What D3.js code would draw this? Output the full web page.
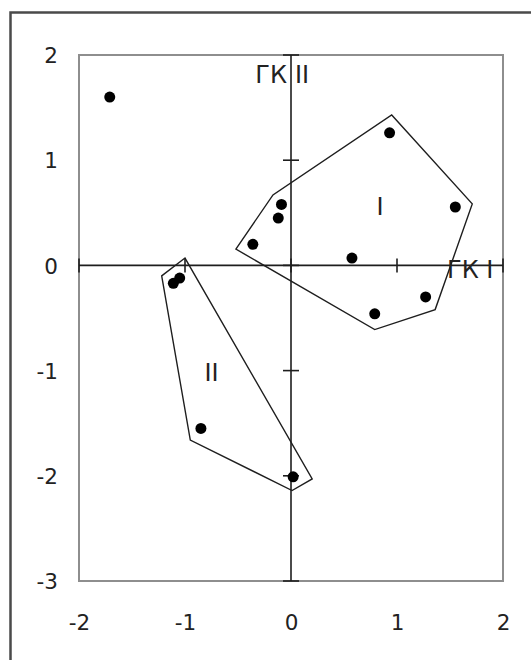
<!DOCTYPE html>
<html>
<head>
<meta charset="utf-8">
<script src="https://cdn.jsdelivr.net/npm/d3@7"></script>
<style>
  body { margin: 0; background: #fff; }
  text { font-family: "DejaVu Sans", sans-serif; fill: #222; }
</style>
</head>
<body>
<div id="chart"></div>
<script>
// points (ГК I, ГК II)
var pointsX = [-1.71, 0.93, 1.55, -0.09, -0.12, -0.36, 0.575, 0.79, 1.27, -1.11, -1.05, -0.85, 0.02];
var pointsY = [1.60, 1.26, 0.555, 0.58, 0.45, 0.20, 0.07, -0.46, -0.30, -0.17, -0.12, -1.55, -2.01];

// cluster hulls
var hull1X = [-0.52, -0.17, 0.95, 1.71, 1.36, 0.79];
var hull1Y = [0.155, 0.67, 1.43, 0.585, -0.42, -0.61];
var hull2X = [-1.0, -1.22, -0.95, 0.01, 0.2];
var hull2Y = [0.07, -0.10, -1.66, -2.14, -2.03];

var xTicks = [-2, -1, 0, 1, 2];
var yTicks = [-3, -2, -1, 0, 1, 2];

var w = 531, h = 660;
var plotLeft = 79, plotRight = 503, plotTop = 55, plotBottom = 581;

var x = d3.scaleLinear().domain([-2, 2]).range([plotLeft, plotRight]);
var y = d3.scaleLinear().domain([-3, 2]).range([plotBottom, plotTop]);

var fmt = function(d) { return String(d); }; // plain hyphen minus

var svg = d3.select("#chart").append("svg")
    .attr("width", w)
    .attr("height", h);

// outer frame (only top and left visible)
svg.append("path")
    .attr("d", "M10.5," + h + "V12.5H" + w)
    .attr("fill", "none")
    .attr("stroke", "#4a4a4a")
    .attr("stroke-width", 2.5);

// plot area border
svg.append("rect")
    .attr("x", plotLeft).attr("y", plotTop)
    .attr("width", plotRight - plotLeft).attr("height", plotBottom - plotTop)
    .attr("fill", "none")
    .attr("stroke", "#8e8e8e")
    .attr("stroke-width", 2);

// tick labels
var xAxis = d3.axisBottom(x).tickValues(xTicks).tickSize(0).tickPadding(49).tickFormat(fmt);
var yAxis = d3.axisLeft(y).tickValues(yTicks).tickSize(0).tickPadding(21).tickFormat(fmt);

var gx = svg.append("g").attr("transform", "translate(0," + plotBottom + ")").call(xAxis);
var gy = svg.append("g").attr("transform", "translate(" + plotLeft + ",0)").call(yAxis);
[gx, gy].forEach(function(g) {
    g.select(".domain").remove();
    g.selectAll("text")
        .style("font-family", "DejaVu Sans, sans-serif")
        .style("font-size", "21.5px")
        .attr("fill", "#222");
});
gx.selectAll("text").attr("dy", "0");
gy.selectAll("text").attr("dy", "0.36em");

// axes through origin with cross ticks
var axisColor = "#1e1e1e";
svg.append("line")
    .attr("x1", x(-2)).attr("x2", x(2))
    .attr("y1", y(0)).attr("y2", y(0))
    .attr("stroke", axisColor).attr("stroke-width", 1.6);
svg.append("line")
    .attr("x1", x(0)).attr("x2", x(0))
    .attr("y1", y(-3)).attr("y2", y(2))
    .attr("stroke", axisColor).attr("stroke-width", 1.6);

svg.append("g").selectAll("line")
    .data(xTicks)
    .join("line")
    .attr("x1", function(d) { return x(d); })
    .attr("x2", function(d) { return x(d); })
    .attr("y1", y(0) - 7).attr("y2", y(0) + 7)
    .attr("stroke", axisColor).attr("stroke-width", 1.6);

svg.append("g").selectAll("line")
    .data(yTicks)
    .join("line")
    .attr("x1", x(0) - 8).attr("x2", x(0) + 8)
    .attr("y1", function(d) { return y(d); })
    .attr("y2", function(d) { return y(d); })
    .attr("stroke", axisColor).attr("stroke-width", 1.6);

// hulls
var line = d3.line()
    .x(function(d) { return x(d[0]); })
    .y(function(d) { return y(d[1]); })
    .curve(d3.curveLinearClosed);

svg.append("path")
    .datum(d3.zip(hull1X, hull1Y))
    .attr("d", line)
    .attr("fill", "none")
    .attr("stroke", "#1e1e1e")
    .attr("stroke-width", 1.4);

svg.append("path")
    .datum(d3.zip(hull2X, hull2Y))
    .attr("d", line)
    .attr("fill", "none")
    .attr("stroke", "#1e1e1e")
    .attr("stroke-width", 1.4);

// points
svg.append("g").selectAll("circle")
    .data(d3.zip(pointsX, pointsY))
    .join("circle")
    .attr("cx", function(d) { return x(d[0]); })
    .attr("cy", function(d) { return y(d[1]); })
    .attr("r", 5.5)
    .attr("fill", "#000");

// labels
var axisLabel2 = svg.append("text")
    .attr("y", 83)
    .style("font-size", "24px");
axisLabel2.append("tspan").attr("x", x(0) - 4).attr("text-anchor", "end").text("ГК");
axisLabel2.append("tspan").attr("x", x(0) + 4).attr("text-anchor", "start").text("II");

svg.append("text")
    .attr("x", 447)
    .attr("y", 278)
    .style("font-size", "24px")
    .text("ГК I");

svg.append("text")
    .attr("x", x(0.84)).attr("y", y(0.56))
    .attr("text-anchor", "middle")
    .attr("dy", "0.36em")
    .style("font-size", "24px")
    .text("I");

svg.append("text")
    .attr("x", x(-0.75)).attr("y", y(-1.02))
    .attr("text-anchor", "middle")
    .attr("dy", "0.36em")
    .style("font-size", "24px")
    .text("II");
</script>
</body>
</html>
